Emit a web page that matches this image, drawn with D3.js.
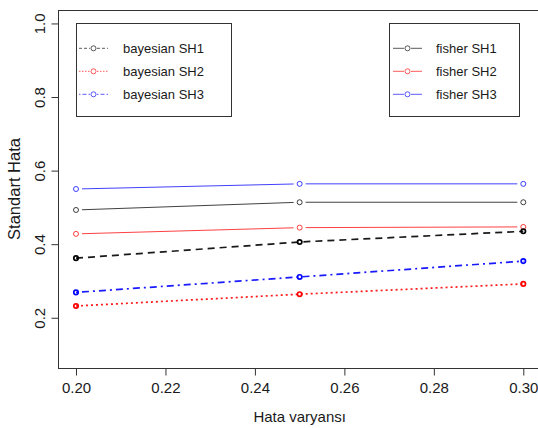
<!DOCTYPE html>
<html>
<head>
<meta charset="utf-8">
<script src="https://cdn.jsdelivr.net/npm/d3@7"></script>
<style>
  html, body { margin: 0; padding: 0; background: #fff; }
  svg { display: block; font-family: Arial, "Liberation Sans", sans-serif; }
</style>
</head>
<body>
<svg id="chart" width="538" height="428"></svg>
<script>
// ---- data ----
const xValues = [0.20, 0.25, 0.30];
const bayesianSH1 = [0.362, 0.406, 0.435];
const bayesianSH2 = [0.232, 0.264, 0.292];
const bayesianSH3 = [0.269, 0.311, 0.354];
const fisherSH1 = [0.493, 0.514, 0.514];
const fisherSH2 = [0.428, 0.445, 0.447];
const fisherSH3 = [0.550, 0.564, 0.564];
const xTicks = [0.20, 0.22, 0.24, 0.26, 0.28, 0.30];
const yTicks = [0.2, 0.4, 0.6, 0.8, 1.0];
const bayesianLabels = ["bayesian SH1", "bayesian SH2", "bayesian SH3"];
const fisherLabels = ["fisher SH1", "fisher SH2", "fisher SH3"];
const xTitle = "Hata varyansı";
const yTitle = "Standart Hata";

// ---- styles ----
const colors = ["#000000", "#ff0000", "#0000ff"];
const bayesDash = ["7,5", "2,3", "2,4,7,4"];

const svg = d3.select("#chart");
const x = d3.scaleLinear().domain([0.196, 0.304]).range([58.1, 541.2]);
const y = d3.scaleLinear().domain([0.064, 1.036]).range([367.8, 10.2]);

const axisColor = "#333";
const textColor = "#1a1a1a";

// frame box
svg.append("rect")
  .attr("x", Math.round(x(0.196)) + 0.5)
  .attr("y", Math.round(y(1.036)) + 0.5)
  .attr("width", x(0.304) - x(0.196))
  .attr("height", Math.round(y(0.064)) - Math.round(y(1.036)))
  .attr("fill", "none").attr("stroke", axisColor).attr("stroke-width", 1);

// x axis
const gx = svg.append("g")
  .attr("transform", `translate(0,${Math.round(y(0.064)) + 0.5})`)
  .call(d3.axisBottom(x).tickValues(xTicks).tickFormat(d3.format(".2f")).tickSize(7).tickPadding(6.5));
gx.select(".domain").remove();
gx.selectAll("line").attr("stroke", axisColor);
gx.selectAll("text").attr("font-size", 15).attr("fill", textColor).attr("font-family", "Arial, 'Liberation Sans', sans-serif");

// y axis
const gy = svg.append("g")
  .attr("transform", `translate(${Math.round(x(0.196)) + 0.5},0)`)
  .call(d3.axisLeft(y).tickValues(yTicks).tickFormat(d3.format(".1f")).tickSize(7));
gy.select(".domain").remove();
gy.selectAll("line").attr("stroke", axisColor);
gy.selectAll("text")
  .attr("x", 0).attr("dy", null).attr("y", 0)
  .attr("text-anchor", "middle")
  .attr("transform", "translate(-13.5,0) rotate(-90)")
  .attr("font-size", 15).attr("fill", textColor).attr("font-family", "Arial, 'Liberation Sans', sans-serif");

// axis titles
svg.append("text")
  .attr("x", (x(0.2) + x(0.3)) / 2).attr("y", 421.5)
  .attr("text-anchor", "middle").attr("font-size", 15).attr("fill", textColor)
  .text(xTitle);
svg.append("text")
  .attr("transform", `translate(20,${(y(0.064) + y(1.036)) / 2}) rotate(-90)`)
  .attr("text-anchor", "middle").attr("font-size", 16.5).attr("fill", textColor)
  .text(yTitle);

const fisherSeries = [fisherSH1, fisherSH2, fisherSH3];
const bayesSeries = [bayesianSH1, bayesianSH2, bayesianSH3];

// fisher lines (type "b": gaps around points)
const gap = 6;
fisherSeries.forEach((vals, i) => {
  const g = svg.append("g");
  for (let k = 0; k < vals.length - 1; k++) {
    const x1 = x(xValues[k]), y1 = y(vals[k]);
    const x2 = x(xValues[k + 1]), y2 = y(vals[k + 1]);
    const len = Math.hypot(x2 - x1, y2 - y1);
    const ux = (x2 - x1) / len, uy = (y2 - y1) / len;
    g.append("line")
      .attr("x1", x1 + ux * gap).attr("y1", y1 + uy * gap)
      .attr("x2", x2 - ux * gap).attr("y2", y2 - uy * gap)
      .attr("stroke", colors[i]).attr("stroke-width", 1).attr("stroke-opacity", 0.75);
  }
  g.selectAll("circle").data(vals).join("circle")
    .attr("cx", (d, k) => x(xValues[k])).attr("cy", d => y(d))
    .attr("r", 2.5).attr("fill", "none")
    .attr("stroke", colors[i]).attr("stroke-width", 1).attr("stroke-opacity", 0.75);
});

// bayesian lines
const line = d3.line().x((d, k) => x(xValues[k])).y(d => y(d));
bayesSeries.forEach((vals, i) => {
  const g = svg.append("g");
  g.append("path").attr("d", line(vals))
    .attr("fill", "none").attr("stroke", colors[i]).attr("stroke-width", 1.7)
    .attr("stroke-opacity", 0.9)
    .attr("stroke-dasharray", bayesDash[i]);
  g.selectAll("circle").data(vals).join("circle")
    .attr("cx", (d, k) => x(xValues[k])).attr("cy", d => y(d))
    .attr("r", 2.2).attr("fill", "none")
    .attr("stroke", colors[i]).attr("stroke-width", 1.7);
});

// legends
function legend(x0, x1, labels, dashes, textX, lineX0, lineX1) {
  const g = svg.append("g");
  g.append("rect")
    .attr("x", x0 + 0.5).attr("y", 23.5).attr("width", x1 - x0).attr("height", 93)
    .attr("fill", "#fff").attr("stroke", axisColor).attr("stroke-width", 1);
  const rows = [48.3, 71.3, 94.3];
  labels.forEach((lab, i) => {
    const cy = rows[i];
    const cx = (lineX0 + lineX1) / 2;
    g.append("line")
      .attr("x1", lineX0).attr("x2", cx - 3.5).attr("y1", cy).attr("y2", cy)
      .attr("stroke", colors[i]).attr("stroke-width", 1).attr("stroke-opacity", 0.65)
      .attr("stroke-dasharray", dashes ? dashes[i] : null);
    g.append("line")
      .attr("x1", cx + 3.5).attr("x2", lineX1).attr("y1", cy).attr("y2", cy)
      .attr("stroke", colors[i]).attr("stroke-width", 1).attr("stroke-opacity", 0.65)
      .attr("stroke-dasharray", dashes ? dashes[i] : null);
    g.append("circle").attr("cx", cx).attr("cy", cy).attr("r", 2.5)
      .attr("fill", "none").attr("stroke", colors[i]).attr("stroke-opacity", 0.65);
    g.append("text").attr("x", textX).attr("y", cy + 4.6)
      .attr("font-size", 13).attr("fill", textColor).text(lab);
  });
}
legend(76, 231, bayesianLabels, ["3,2", "1.5,1.5", "1.5,2,4,2"], 123, 79, 108);
legend(389, 519, fisherLabels, null, 436, 393, 422);
</script>
</body>
</html>
